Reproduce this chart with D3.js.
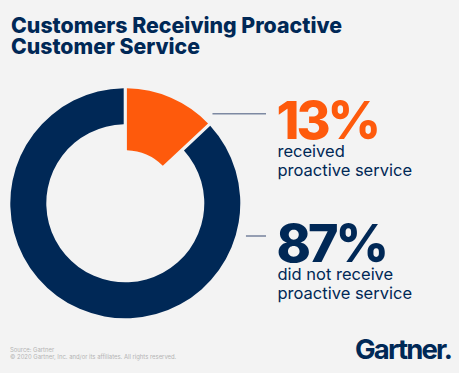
<!DOCTYPE html>
<html>
<head>
<meta charset="utf-8">
<script src="https://cdn.jsdelivr.net/npm/d3@7"></script>
<style>
  body { margin: 0; background: #f3f3f3; }
  svg { display: block; font-family: Inter, "Noto Sans", sans-serif; }
</style>
</head>
<body>
<div id="chart"></div>
<script>
// data
var categories = ["received proactive service", "did not receive proactive service"];
var values = [13, 87];
var labelLines = [["received", "proactive service"], ["did not receive", "proactive service"]];
var titleLines = ["Customers Receiving Proactive", "Customer Service"];
var footerLines = ["Source: Gartner", "\u00a9 2020 Gartner, Inc. and/or its affiliates. All rights reserved."];

var width = 459, height = 373;
var colors = ["#fe5a0c", "#002856"];
var cx = 125.3, cy = 203.3, outerR = 115;
var innerR = [53, 79];

var svg = d3.select("#chart").append("svg")
    .attr("width", width)
    .attr("height", height);

svg.append("rect").attr("width", width).attr("height", height).attr("fill", "#f3f3f3");

// title, one text per line, widths
var titleWidths = [331, 189];
svg.selectAll(".title")
  .data(titleLines)
  .enter().append("text")
    .attr("class", "title")
    .attr("x", 11)
    .attr("y", function(d, i) { return 32.5 + i * 21.7; })
    .attr("fill", "#002856")
    .attr("textLength", function(d, i) { return titleWidths[i]; })
    .attr("lengthAdjust", "spacingAndGlyphs")
    .style("font-weight", 800)
    .style("font-size", "21.5px")
    .text(function(d) { return d; });

// donut
var pie = d3.pie().sort(null).startAngle(0).endAngle(2 * Math.PI);
var arcs = pie(values);

var g = svg.append("g").attr("transform", "translate(" + cx + "," + cy + ")");

g.selectAll("path")
  .data(arcs)
  .enter().append("path")
    .attr("fill", function(d, i) { return colors[i]; })
    .attr("d", function(d, i) {
      return d3.arc()
        .innerRadius(innerR[i])
        .outerRadius(outerR)
        .padRadius(outerR)
        .padAngle(3.2 / outerR)(d);
    });

// labels
var labelY = [138.5, 261.5];
var lineY = [113.7, 236];
var labelX = 277.5;

categories.forEach(function(c, i) {
  var dy = lineY[i] - cy;
  var x0 = cx + Math.sqrt(125 * 125 - dy * dy);
  svg.append("line")
      .attr("x1", x0).attr("x2", 266)
      .attr("y1", lineY[i]).attr("y2", lineY[i])
      .attr("stroke", "#7d89a2")
      .attr("stroke-width", 1.6);

  svg.append("text")
      .attr("x", labelX - 1)
      .attr("y", labelY[i])
      .attr("fill", colors[i])
      .style("font-weight", 800)
      .style("font-size", "52px")
      .style("letter-spacing", "-3px")
      .text(values[i] + "%");

  labelLines[i].forEach(function(t, j) {
    svg.append("text")
        .attr("x", labelX)
        .attr("y", labelY[i] + 18.3 + j * 19.3)
        .attr("fill", "#002856")
        .style("font-size", "16.5px")
        .text(t);
  });
});

// footer
footerLines.forEach(function(t, i) {
  svg.append("text")
      .attr("x", 10)
      .attr("y", 352.3 + i * 6.8)
      .attr("fill", "#b3b3b3")
      .style("font-size", "5.9px")
      .text(t);
});

// logo
svg.append("text")
    .attr("x", 355)
    .attr("y", 359.3)
    .attr("fill", "#002856")
    .style("font-weight", 700)
    .style("font-size", "27.5px")
    .style("letter-spacing", "-1.8px")
    .text("Gartner.");
</script>
</body>
</html>
